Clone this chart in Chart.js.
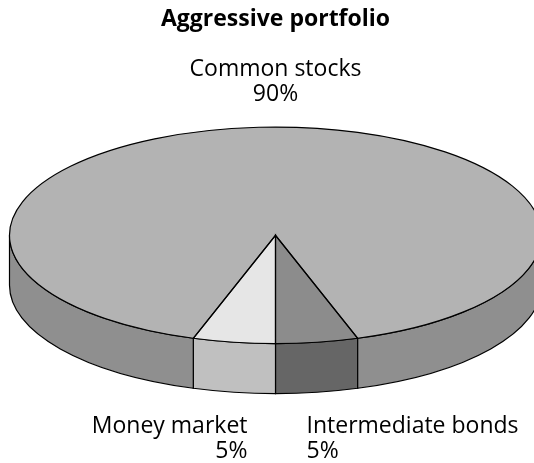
<!DOCTYPE html>
<html>
<head>
<meta charset="utf-8">
<script src="https://cdn.jsdelivr.net/npm/chart.js@4.4.1/dist/chart.umd.min.js"></script>
<style>
  html, body { margin: 0; padding: 0; background: #fff; }
  #wrap { width: 534px; height: 463px; }
</style>
</head>
<body>
<div id="wrap"><canvas id="pieChart"></canvas></div>
<script>
(() => {
    // datos del gráfico
    const categorias = ['Intermediate bonds', 'Money market', 'Common stocks'];
    const porcentajes = [5, 5, 90];

    // colores: cara superior y lateral de cada porción
    const coloresCara = ['#8c8c8c', '#e6e6e6', '#b3b3b3'];
    const coloresLado = ['#666666', '#c0c0c0', '#8f8f8f'];

    const fuente = '"Open Sans", sans-serif';

    // Plugin: aplasta la torta y le dibuja el canto para simular 3D
    const torta3d = {
        id: 'torta3d',
        beforeDatasetsDraw(chart, args, opts) {
            const ctx = chart.ctx;
            const arcos = chart.getDatasetMeta(0).data;
            const { x: cx, y: cy, outerRadius: r } = arcos[0];
            const ry = r * opts.inclinacion;
            const prof = opts.profundidad;

            ctx.save();
            ctx.lineWidth = 1.2;
            ctx.strokeStyle = '#000';
            arcos.forEach((arco, i) => {
                const a0 = arco.startAngle, a1 = arco.endAngle;
                // solo el frente (0..PI) del canto es visible
                for (let n = -1; n <= 2; n++) {
                    const lo = Math.max(a0, n * 2 * Math.PI);
                    const hi = Math.min(a1, n * 2 * Math.PI + Math.PI);
                    if (hi <= lo) continue;
                    ctx.beginPath();
                    ctx.ellipse(cx, cy, r, ry, 0, lo, hi);
                    ctx.ellipse(cx, cy + prof, r, ry, 0, hi, lo, true);
                    ctx.closePath();
                    ctx.fillStyle = coloresLado[i];
                    ctx.fill();
                    ctx.stroke();
                }
            });
            ctx.restore();

            // la cara superior la dibuja Chart.js, escalada en vertical
            ctx.save();
            ctx.translate(cx, cy);
            ctx.scale(1, opts.inclinacion);
            ctx.translate(-cx, -cy);
        },
        afterDatasetsDraw(chart, args, opts) {
            const ctx = chart.ctx;
            ctx.restore();
            const arcos = chart.getDatasetMeta(0).data;
            const { x: cx, y: cy, outerRadius: r } = arcos[0];
            const ry = r * opts.inclinacion;
            ctx.save();
            ctx.lineWidth = 1.2;
            ctx.strokeStyle = '#000';
            arcos.forEach((arco) => {
                ctx.beginPath();
                ctx.moveTo(cx, cy);
                ctx.ellipse(cx, cy, r, ry, 0, arco.startAngle, arco.endAngle);
                ctx.closePath();
                ctx.stroke();
            });
            ctx.restore();
        },
        afterDraw(chart, args, opts) {
            const ctx = chart.ctx;
            const arcos = chart.getDatasetMeta(0).data;
            const { x: cx, y: cy, outerRadius: r } = arcos[0];
            const ry = r * opts.inclinacion;
            const prof = opts.profundidad;
            ctx.save();
            ctx.fillStyle = '#000';
            ctx.font = '23px ' + fuente;
            ctx.textBaseline = 'alphabetic';

            // etiqueta de arriba (porción grande)
            ctx.textAlign = 'center';
            ctx.fillText(categorias[2], cx, cy - ry - 51);
            ctx.fillText(porcentajes[2] + '%', cx, cy - ry - 26);

            // etiquetas de abajo
            const yBase = cy + ry + prof + 39;
            ctx.textAlign = 'right';
            ctx.fillText(categorias[1], cx - 28, yBase);
            ctx.fillText(porcentajes[1] + '%', cx - 28, yBase + 25);
            ctx.textAlign = 'left';
            ctx.fillText(categorias[0], cx + 31, yBase);
            ctx.fillText(porcentajes[0] + '%', cx + 31, yBase + 25);
            ctx.restore();
        }
    };

    const ctx = document.getElementById('pieChart');
    new Chart(ctx, {
        type: 'pie',
        data: {
            labels: categorias,
            datasets: [{
                data: porcentajes,
                backgroundColor: coloresCara,
                borderWidth: 0,
                clip: false
            }]
        },
        options: {
            responsive: true,
            maintainAspectRatio: false,
            animation: false,
            events: [],
            rotation: 162,
            radius: 266,
            layout: { padding: { left: 17, right: 0, top: 0, bottom: 26 } },
            plugins: {
                legend: { display: false },
                tooltip: { enabled: false },
                title: {
                    display: true,
                    text: 'Aggressive portfolio',
                    color: '#000',
                    font: { family: fuente, size: 23, weight: 'bold' },
                    padding: { top: 6, bottom: 0 }
                },
                torta3d: { inclinacion: 0.407, profundidad: 50 }
            }
        },
        plugins: [torta3d]
    });
})();
</script>
</body>
</html>
